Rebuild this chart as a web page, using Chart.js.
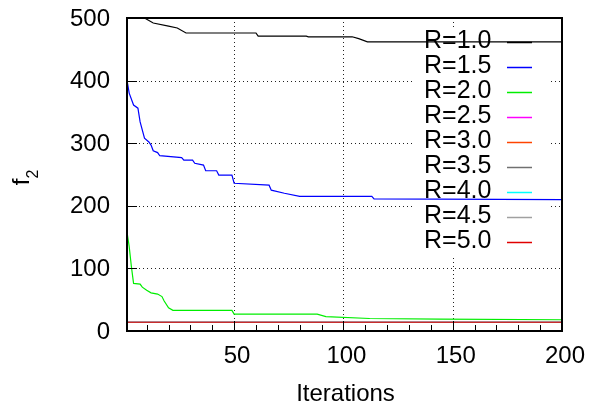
<!DOCTYPE html>
<html>
<head>
<meta charset="utf-8">
<script src="https://cdn.jsdelivr.net/npm/chart.js@4/dist/chart.umd.min.js"></script>
<style>
  html, body { margin: 0; padding: 0; background: #fff; }
  #wrap { width: 599px; height: 413px; position: relative; }
</style>
</head>
<body>
<div id="wrap"><canvas id="c" width="599" height="413"></canvas></div>
<script>
// ---- data ----
const seriesLabels = ['R=1.0', 'R=1.5', 'R=2.0', 'R=2.5', 'R=3.0', 'R=3.5', 'R=4.0', 'R=4.5', 'R=5.0'];
const seriesColors = ['#000000', '#0000ff', '#00ee00', '#ff00ff', '#ff4400', '#707070', '#00ffff', '#a0a0a0', '#e00000'];

const iterR10 = [1, 9, 13, 20, 24, 28, 60, 61, 83, 84, 104, 107, 111, 200];
const f2R10   = [500, 500, 492, 487, 484, 476, 476, 471, 471, 470, 470, 467, 462, 462];

const iterR15 = [1, 2, 4, 6, 7, 9, 11, 12, 13, 15, 16, 26, 27, 31, 32, 36, 37, 42, 43, 49, 50, 66, 67, 73, 80, 113, 114, 200];
const f2R15   = [401, 380, 361, 356, 334, 308, 302, 297, 288, 285, 280, 277, 273, 273, 268, 265, 256, 256, 249, 249, 236, 233, 225, 220, 215, 215, 211, 210];

const iterR20 = [1, 2, 3, 4, 7, 8, 10, 12, 15, 17, 18, 20, 22, 49, 50, 88, 92, 112, 144, 200];
const f2R20   = [158, 135, 103, 76, 75, 70, 65, 61, 59, 55, 48, 37, 33, 33, 27, 27, 23, 20, 19, 18];

const iterFlat = [1, 200];
const f2R25 = [14, 14];
const f2R30 = [14, 14];
const f2R35 = [14, 14];
const f2R40 = [14, 14];
const f2R45 = [14, 14];
const f2R50 = [14, 14];

const xTickValues = [50, 100, 150, 200];
const yTickValues = [0, 100, 200, 300, 400, 500];

const seriesIters = [iterR10, iterR15, iterR20, iterFlat, iterFlat, iterFlat, iterFlat, iterFlat, iterFlat];
const seriesValues = [f2R10, f2R15, f2R20, f2R25, f2R30, f2R35, f2R40, f2R45, f2R50];

const FONT = '"Liberation Sans", Arial, Helvetica, sans-serif';

const datasets = seriesLabels.map((lab, k) => ({
  label: lab,
  data: seriesIters[k].map((x, i) => ({ x: x, y: seriesValues[k][i] })),
  borderColor: seriesColors[k],
  backgroundColor: seriesColors[k],
  borderWidth: 1.2,
  pointRadius: 0,
  tension: 0,
  fill: false,
  order: seriesLabels.length - k
}));

const gnuplotStyle = {
  id: 'gnuplotStyle',
  beforeDatasetsDraw(chart) {
    const ctx = chart.ctx;
    const ca = chart.chartArea;
    const xs = chart.scales.x, ys = chart.scales.y;
    ctx.save();
    // dotted grid
    ctx.strokeStyle = '#222';
    ctx.lineWidth = 1;
    ctx.setLineDash([1, 3]);
    yTickValues.forEach(v => {
      const y = Math.round(ys.getPixelForValue(v)) + 0.5;
      ctx.beginPath(); ctx.moveTo(ca.left, y); ctx.lineTo(ca.right, y); ctx.stroke();
    });
    xTickValues.forEach(v => {
      const x = Math.round(xs.getPixelForValue(v)) + 0.5;
      ctx.beginPath(); ctx.moveTo(x, ca.top); ctx.lineTo(x, ca.bottom); ctx.stroke();
    });
    ctx.setLineDash([]);
    // legend (opaque box)
    const lx = ca.right - 147, ly = ca.top + 10, lw = 133, lh = 229;
    ctx.fillStyle = '#fff';
    ctx.fillRect(lx, ly, lw, lh);
    ctx.font = '25px ' + FONT;
    ctx.textBaseline = 'middle';
    ctx.textAlign = 'left';
    seriesLabels.forEach((lab, i) => {
      const y = ca.top + 23.5 + i * 25;
      ctx.fillStyle = '#000';
      ctx.fillText(lab, ca.right - 138, y);
      ctx.strokeStyle = seriesColors[i];
      ctx.lineWidth = 1.5;
      ctx.beginPath();
      ctx.moveTo(ca.right - 55, Math.round(y) + 0.5);
      ctx.lineTo(ca.right - 30, Math.round(y) + 0.5);
      ctx.stroke();
    });
    ctx.restore();
  },
  afterDatasetsDraw(chart) {
    const ctx = chart.ctx;
    const ca = chart.chartArea;
    const xs = chart.scales.x, ys = chart.scales.y;
    ctx.save();
    ctx.strokeStyle = '#000';
    ctx.lineWidth = 1;
    // x ticks (inward), minor every 10
    for (let v = 10; v < 200; v += 10) {
      const x = Math.round(xs.getPixelForValue(v)) + 0.5;
      const len = (v % 50 === 0) ? 10 : 6;
      ctx.beginPath(); ctx.moveTo(x, ca.bottom); ctx.lineTo(x, ca.bottom - len); ctx.stroke();
    }
    // y ticks (inward)
    yTickValues.forEach(v => {
      const y = Math.round(ys.getPixelForValue(v)) + 0.5;
      ctx.beginPath(); ctx.moveTo(ca.left, y); ctx.lineTo(ca.left + 10, y); ctx.stroke();
    });
    // border
    ctx.lineWidth = 2;
    ctx.strokeRect(ca.left, ca.top, ca.right - ca.left, ca.bottom - ca.top);
    // x title
    ctx.fillStyle = '#000';
    ctx.font = '24px ' + FONT;
    ctx.textAlign = 'center';
    ctx.textBaseline = 'alphabetic';
    ctx.fillText('Iterations', (ca.left + ca.right) / 2 + 1, 401);
    // y title f_2 (rotated)
    ctx.translate(0, (ca.top + ca.bottom) / 2 + 3);
    ctx.rotate(-Math.PI / 2);
    ctx.textAlign = 'left';
    ctx.font = '24px ' + FONT;
    const wf = ctx.measureText('f').width;
    ctx.font = '16px ' + FONT;
    const w2 = ctx.measureText('2').width;
    const start = -(wf + w2) / 2;
    ctx.font = '24px ' + FONT;
    ctx.fillText('f', start, 29);
    ctx.font = '16px ' + FONT;
    ctx.fillText('2', start + wf, 38);
    ctx.restore();
  }
};

new Chart(document.getElementById('c'), {
  type: 'line',
  data: { datasets: datasets },
  options: {
    responsive: false,
    animation: false,
    events: [],
    layout: { padding: { left: 0, right: 37, top: 18, bottom: 0 } },
    plugins: { legend: { display: false }, tooltip: { enabled: false }, title: { display: false } },
    scales: {
      x: {
        type: 'linear',
        min: 1, max: 200,
        afterBuildTicks: s => { s.ticks = xTickValues.map(v => ({ value: v })); },
        afterFit: s => { s.height = 82; s.paddingLeft = 0; s.paddingRight = 0; },
        grid: { display: false, drawTicks: false },
        border: { display: false },
        ticks: { color: '#000', font: { family: FONT, size: 24 }, padding: 11, labelOffset: 3, maxRotation: 0, autoSkip: false }
      },
      y: {
        type: 'linear',
        min: 0, max: 500,
        afterBuildTicks: s => { s.ticks = yTickValues.map(v => ({ value: v })); },
        afterFit: s => { s.width = 127; s.paddingTop = 0; s.paddingBottom = 0; },
        grid: { display: false, drawTicks: false },
        border: { display: false },
        ticks: { color: '#000', font: { family: FONT, size: 24 }, padding: 17, labelOffset: 1, autoSkip: false }
      }
    }
  },
  plugins: [gnuplotStyle]
});
</script>
</body>
</html>
